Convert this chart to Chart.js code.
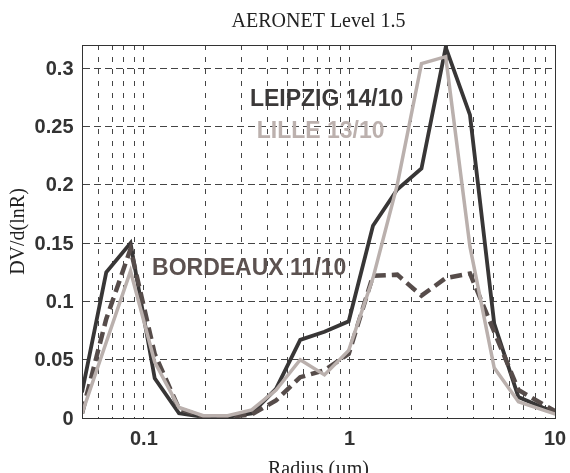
<!DOCTYPE html>
<html>
<head>
<meta charset="utf-8">
<script src="https://cdn.jsdelivr.net/npm/chart.js"></script>
<style>
  html, body { margin: 0; padding: 0; overflow: hidden; background: #fff; }
  canvas { display: block; }
</style>
</head>
<body>
<canvas id="chart" width="570" height="484"></canvas>
<script>
// AERONET radius bins (um)
const radius = [0.05, 0.0656, 0.0861, 0.1129, 0.1482, 0.1944, 0.2551, 0.3347, 0.4392, 0.5762, 0.7561,
                0.9920, 1.3016, 1.7078, 2.2408, 2.9400, 3.8575, 5.0613, 6.6407, 8.7131, 11.4329, 15.0];

// dV/dlnR
const leipzig  = [0.022, 0.125, 0.150, 0.034, 0.004, 0.001, 0.001, 0.004, 0.025, 0.067, 0.074,
                  0.083, 0.165, 0.196, 0.214, 0.318, 0.260, 0.081, 0.018, 0.009, 0.001, 0.0];
const lille    = [0.004, 0.065, 0.126, 0.048, 0.009, 0.002, 0.002, 0.007, 0.024, 0.050, 0.037,
                  0.058, 0.120, 0.200, 0.304, 0.310, 0.147, 0.043, 0.014, 0.007, 0.0, 0.0];
const bordeaux = [0.004, 0.085, 0.145, 0.055, 0.008, 0.001, 0.001, 0.003, 0.015, 0.035, 0.041,
                  0.055, 0.122, 0.123, 0.105, 0.120, 0.124, 0.074, 0.024, 0.012, 0.0, 0.0];

// grid / tick positions
const xTicks = [0.05, 0.06, 0.07, 0.08, 0.09, 0.1, 0.2, 0.3, 0.4, 0.5, 0.6, 0.7, 0.8, 0.9,
                1, 2, 3, 4, 5, 6, 7, 8, 9, 10];
const xLabeled = [0.1, 1, 10];
const yTicks = [0, 0.05, 0.1, 0.15, 0.2, 0.25, 0.3];
const yLabels = ['0', '0.05', '0.1', '0.15', '0.2', '0.25', '0.3'];

// in-plot labels, anchored in data space (left edge / baseline)
const notes = [
    { text: 'LEIPZIG 14/10',  x: 0.328, y: 0.268, color: '#3b3939' },
    { text: 'LILLE 13/10',    x: 0.354, y: 0.240, color: '#bcb1ae' },
    { text: 'BORDEAUX 11/10', x: 0.1096, y: 0.1225, color: '#5c5250' }
];

const toXY = arr => arr.map((v, i) => ({ x: radius[i], y: v }));

const tickFont = { family: 'Liberation Sans', size: 20, weight: 'bold' };
const serif = 'Liberation Serif';

const notesPlugin = {
    id: 'notes',
    afterDatasetsDraw(chart) {
        const ctx = chart.ctx;
        const xs = chart.scales.x, ys = chart.scales.y;
        ctx.save();
        ctx.font = 'bold 23px "Liberation Sans"';
        ctx.textBaseline = 'alphabetic';
        ctx.textAlign = 'left';
        notes.forEach(n => {
            ctx.fillStyle = n.color;
            ctx.fillText(n.text, xs.getPixelForValue(n.x), ys.getPixelForValue(n.y));
        });
        ctx.restore();
    }
};

const boxPlugin = {
    id: 'box',
    afterDraw(chart) {
        const { ctx, chartArea: a } = chart;
        ctx.save();
        ctx.strokeStyle = '#333';
        ctx.lineWidth = 1;
        ctx.strokeRect(a.left + 0.5, a.top + 0.5, a.right - a.left, a.bottom - a.top);
        ctx.restore();
    }
};

new Chart(document.getElementById('chart'), {
    type: 'line',
    data: {
        datasets: [
            {
                label: 'LILLE 13/10',
                data: toXY(lille),
                borderColor: '#bab0ad',
                borderWidth: 3.5,
                pointRadius: 0,
                tension: 0
            },
            {
                label: 'BORDEAUX 11/10',
                data: toXY(bordeaux),
                borderColor: '#564c4a',
                borderWidth: 4.5,
                borderDash: [12, 6],
                pointRadius: 0,
                tension: 0
            },
            {
                label: 'LEIPZIG 14/10',
                data: toXY(leipzig),
                borderColor: '#383636',
                borderWidth: 3.8,
                pointRadius: 0,
                tension: 0
            }
        ]
    },
    options: {
        responsive: false,
        animation: false,
        layout: { padding: { left: 0, right: 15, top: 0, bottom: 0 } },
        plugins: {
            legend: { display: false },
            tooltip: { enabled: false },
            title: {
                display: true,
                text: 'AERONET Level 1.5',
                fullSize: false,
                color: '#222',
                font: { family: serif, size: 20, weight: 'normal', lineHeight: 1.2 },
                padding: { top: 10, bottom: 11 }
            }
        },
        scales: {
            x: {
                type: 'logarithmic',
                min: 0.05,
                max: 10,
                afterBuildTicks: axis => {
                    axis.ticks = xTicks.map(v => ({ value: v, major: xLabeled.includes(v) }));
                },
                afterFit: axis => {
                    axis.height = 66;
                    axis.paddingLeft = 0;
                    axis.paddingRight = 0;
                },
                ticks: {
                    autoSkip: false,
                    maxRotation: 0,
                    padding: 9,
                    color: '#333',
                    font: tickFont,
                    callback: function(value) {
                        return xLabeled.includes(value) ? String(value) : '';
                    }
                },
                grid: { color: '#444', lineWidth: 1, drawTicks: false },
                border: { display: true, color: '#333', width: 1, dash: [5, 7] },
                title: {
                    display: true,
                    text: 'Radius (µm)',
                    color: '#222',
                    font: { family: serif, size: 20, weight: 'normal', lineHeight: 1.2 },
                    padding: { top: 0, bottom: 2 }
                }
            },
            y: {
                type: 'linear',
                min: 0,
                max: 0.32,
                afterBuildTicks: axis => {
                    axis.ticks = yTicks.map(v => ({ value: v }));
                },
                afterFit: axis => {
                    axis.width = 82;
                    axis.paddingTop = 0;
                    axis.paddingBottom = 0;
                },
                ticks: {
                    padding: 8.5,
                    color: '#333',
                    font: tickFont,
                    labelOffset: 1,
                    callback: function(value, index) {
                        return yLabels[index];
                    }
                },
                grid: { color: '#444', lineWidth: 1, drawTicks: false },
                border: { display: true, color: '#333', width: 1, dash: [7, 4] },
                title: {
                    display: true,
                    text: 'DV/d(lnR)',
                    color: '#222',
                    font: { family: serif, size: 20, weight: 'normal', lineHeight: 1.2 },
                    padding: { top: 7, bottom: 0 }
                }
            }
        }
    },
    plugins: [notesPlugin, boxPlugin]
});
</script>
</body>
</html>
